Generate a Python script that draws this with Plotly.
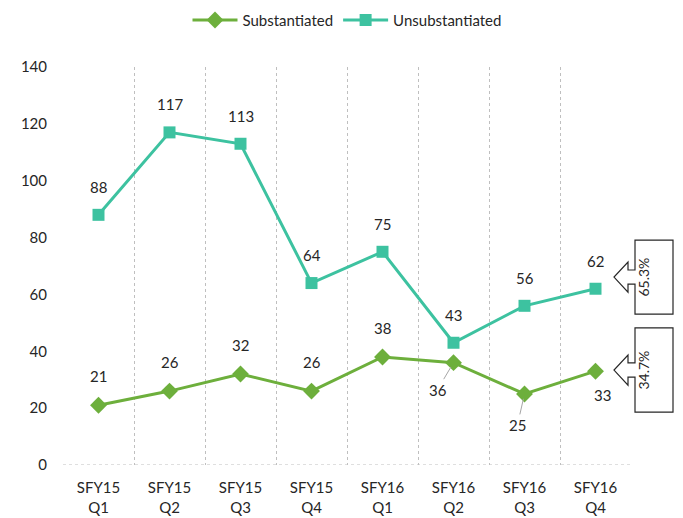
import plotly.graph_objects as go

categories = ["SFY15<br>Q1", "SFY15<br>Q2", "SFY15<br>Q3", "SFY15<br>Q4",
              "SFY16<br>Q1", "SFY16<br>Q2", "SFY16<br>Q3", "SFY16<br>Q4"]
substantiated = [21, 26, 32, 26, 38, 36, 25, 33]
unsubstantiated = [88, 117, 113, 64, 75, 43, 56, 62]

GREEN = "#6DAF3C"
TEAL = "#3DC2A0"
TEXT = "#262626"
FONT = "Lato, Open Sans, sans-serif"

# label offsets in pixels (ax, ay) and whether to draw leader line
sub_offsets = [(0, -29), (0, -29), (0, -29), (0, -29), (0, -29), (-16, 27), (-7, 31), (7, 24)]
sub_leader = [False, False, False, False, False, True, True, False]

fig = go.Figure()
fig.add_trace(go.Scatter(x=categories, y=substantiated, name="Substantiated",
                         mode="lines+markers",
                         line=dict(color=GREEN, width=3),
                         marker=dict(symbol="diamond", size=13, color=GREEN)))
fig.add_trace(go.Scatter(x=categories, y=unsubstantiated, name="Unsubstantiated",
                         mode="lines+markers",
                         line=dict(color=TEAL, width=3),
                         marker=dict(symbol="square", size=12, color=TEAL)))

annotations = []
for c, v in zip(categories, unsubstantiated):
    annotations.append(dict(x=c, y=v, xref="x", yref="y", text=str(v),
                            showarrow=True, arrowcolor="rgba(0,0,0,0)",
                            ax=0, ay=-28, font=dict(size=15, color=TEXT, family=FONT)))
for c, v, (ax, ay), lead in zip(categories, substantiated, sub_offsets, sub_leader):
    annotations.append(dict(x=c, y=v, xref="x", yref="y", text=str(v),
                            showarrow=True, arrowhead=0, arrowwidth=1,
                            arrowcolor="#A6A6A6" if lead else "rgba(0,0,0,0)",
                            standoff=5,
                            ax=ax, ay=ay, font=dict(size=15, color=TEXT, family=FONT)))

total_last = substantiated[-1] + unsubstantiated[-1]
pct_unsub = unsubstantiated[-1] / total_last * 100
pct_sub = substantiated[-1] / total_last * 100

# page has 8px body margin; plot area in window pixels: x 63..631, y 67..465
W = 568.0
def px(p):
    return (p - 63) / W

def callout(tip_y, box_top, box_bot, neck_half=2.5, head_half=5.3):
    xt, xh, xb, xr = px(614), px(628), px(635), px(673)
    return (f"M {xb},{tip_y + neck_half} L {xb},{box_top} L {xr},{box_top} L {xr},{box_bot} "
            f"L {xb},{box_bot} L {xb},{tip_y - neck_half} L {xh},{tip_y - neck_half} "
            f"L {xh},{tip_y - head_half} L {xt},{tip_y} L {xh},{tip_y + head_half} "
            f"L {xh},{tip_y + neck_half} Z")

shapes = [
    dict(type="path", xref="paper", yref="y", path=callout(66.1, 79.1, 53.1),
         line=dict(color="#262626", width=1.2), fillcolor="white"),
    dict(type="path", xref="paper", yref="y", path=callout(33.4, 48.2, 18.6),
         line=dict(color="#262626", width=1.2), fillcolor="white"),
    dict(type="line", xref="paper", yref="y", x0=0, x1=1, y0=0, y1=0,
         line=dict(color="#BFBFBF", width=1, dash="dot"), layer="below"),
]
annotations.append(dict(x=px(654), y=66.1, xref="paper", yref="y",
                        text=f"{pct_unsub:.1f}%", textangle=-90, showarrow=False,
                        font=dict(size=14, color=TEXT, family=FONT)))
annotations.append(dict(x=px(654), y=33.4, xref="paper", yref="y",
                        text=f"{pct_sub:.1f}%", textangle=-90, showarrow=False,
                        font=dict(size=14, color=TEXT, family=FONT)))

fig.update_layout(
    width=675, height=510,
    margin=dict(l=55, r=52, t=59, b=53, autoexpand=False),
    paper_bgcolor="white", plot_bgcolor="white",
    font=dict(family=FONT, color=TEXT),
    showlegend=True,
    legend=dict(orientation="h", x=0.5, xanchor="center", y=0.976, yanchor="middle",
                yref="container", itemwidth=45, tracegroupgap=0,
                font=dict(size=15, color=TEXT, family=FONT)),
    xaxis=dict(type="category", range=[-0.5, 7.5], tickson="boundaries",
               showgrid=True, gridcolor="#BFBFBF", griddash="dot", gridwidth=1,
               ticks="", showline=False, zeroline=False, ticklabelstandoff=12,
               automargin=False,
               tickfont=dict(size=15, color=TEXT, family=FONT)),
    yaxis=dict(range=[0, 140], dtick=20, showgrid=False, zeroline=False,
               showline=False, ticks="", ticklabelstandoff=15, automargin=False,
               tickfont=dict(size=15, color=TEXT, family=FONT)),
    shapes=shapes,
    annotations=annotations,
)

fig.write_html("out.html")
